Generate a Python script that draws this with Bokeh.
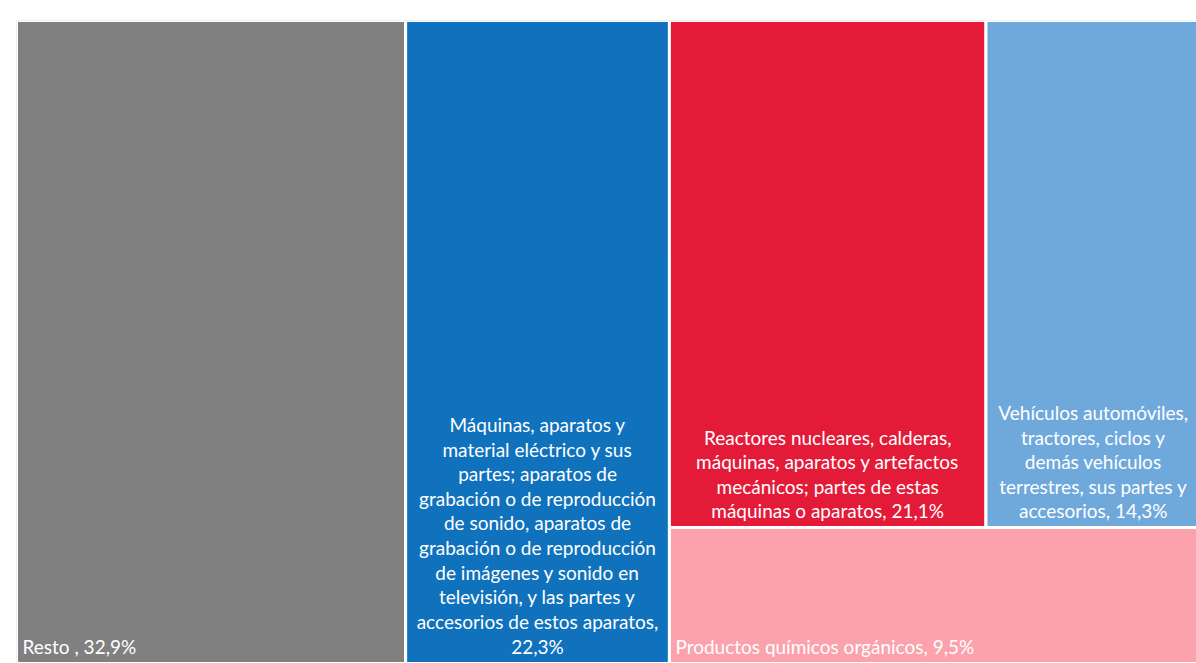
from bokeh.plotting import figure
from bokeh.models import ColumnDataSource, Range1d
from bokeh.core.properties import value
from bokeh.embed import file_html
from bokeh.resources import INLINE

# ---- data ----
names = [
    "Resto ",
    "Máquinas, aparatos y\nmaterial eléctrico y sus\npartes; aparatos de\ngrabación o de reproducción\nde sonido, aparatos de\ngrabación o de reproducción\nde imágenes y sonido en\ntelevisión, y las partes y\naccesorios de estos aparatos",
    "Reactores nucleares, calderas,\nmáquinas, aparatos y artefactos\nmecánicos; partes de estas\nmáquinas o aparatos",
    "Vehículos automóviles,\ntractores, ciclos y\ndemás vehículos\nterrestres, sus partes y\naccesorios",
    "Productos químicos orgánicos",
]
shares = [32.9, 22.3, 21.1, 14.3, 9.5]
separators = [", ", ",\n", ", ", ", ", ", "]
colors = ["#808080", "#1072bd", "#e31b39", "#6fa9dc", "#fca2ac"]
aligns = ["left", "center", "center", "center", "left"]

# ---- figure ----
FW, FH = 1196, 663
BL, BT = 16, 20
W, H = FW - BL + 4, FH - BT + 1
TOP = FH - BT

p = figure(width=FW, height=FH, output_backend="svg", toolbar_location=None,
           x_range=Range1d(0, FW - BL), y_range=Range1d(TOP - H, TOP),
           min_border_left=BL, min_border_top=BT, min_border_right=0, min_border_bottom=0)
p.axis.visible = False
p.grid.visible = False
p.outline_line_color = None
p.background_fill_color = "white"

# ---- treemap layout (slice-and-dice like the reference) ----
total = sum(shares)
y0 = TOP - H
left, right, top, bottom = [], [], [], []
x = 0.0
for v in shares[:2]:
    w = v / total * W
    left.append(x); right.append(x + w); top.append(TOP); bottom.append(y0)
    x += w
col_total = sum(shares[2:])
row_total = sum(shares[2:4])
row_h = row_total / col_total * H
xx = x
for v in shares[2:4]:
    w = v / row_total * (W - x)
    left.append(xx); right.append(xx + w); top.append(TOP); bottom.append(TOP - row_h)
    xx += w
left.append(x); right.append(W); top.append(TOP - row_h); bottom.append(y0)

labels = [n + s + f"{v:.1f}".replace(".", ",") + "%" for n, s, v in zip(names, separators, shares)]
tx = [(l + 6) if a == "left" else (l + r) / 2 for l, r, a in zip(left, right, aligns)]
ty = [max(b, 0) + 5 for b in bottom]

src = ColumnDataSource(dict(left=left, right=right, top=top, bottom=bottom,
                            color=colors, label=labels, tx=tx, ty=ty, align=aligns))
p.quad(left="left", right="right", top="top", bottom="bottom", source=src,
       fill_color="color", line_color="white", line_width=3)
p.text(x="tx", y="ty", text="label", source=src, text_align="align",
       text_baseline="bottom", text_color="white", text_font=value("Lato"),
       text_font_size="19px", text_line_height=1.07)

open("out.html", "w").write(file_html(p, INLINE))
